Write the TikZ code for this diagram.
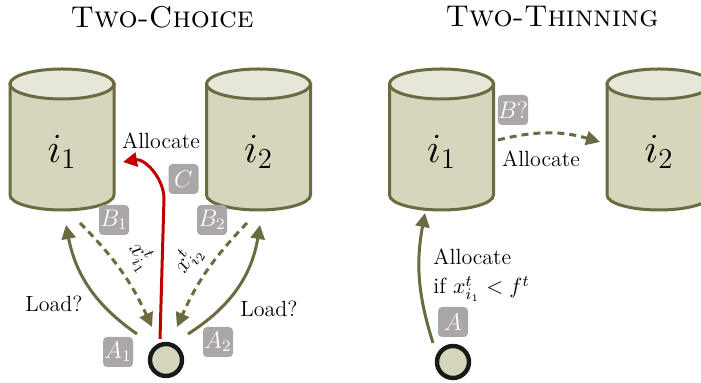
\documentclass[tikz,border=0pt]{standalone}
\usetikzlibrary{arrows.meta}
\definecolor{binline}{RGB}{107,106,64}
\definecolor{binbody}{RGB}{214,214,188}
\definecolor{bintop}{RGB}{231,231,217}
\definecolor{tagfill}{RGB}{170,167,166}
\definecolor{allocred}{RGB}{192,0,0}
\tikzset{
  cylbody/.style={draw=binline,fill=binbody,line width=1.5pt},
  cyltop/.style={draw=binline,fill=bintop,line width=1.5pt},
  ball/.style={circle,draw=black!90,fill=binbody,line width=2.2pt,minimum size=16pt,inner sep=0pt},
  tag/.style={fill=tagfill,text=white,rounded corners=2pt,minimum size=15pt,inner sep=0pt,font=\large},
  probe/.style={binline,line width=1.5pt,-{Triangle[length=7pt,width=7pt]}},
  query/.style={probe,dash pattern=on 3.5pt off 2.5pt},
  title/.style={font=\fontsize{15}{18}\selectfont},
  lbl/.style={font=\fontsize{11}{13}\selectfont,inner sep=1pt},
}
% a bin drawn as a cylinder: name, x, label
\newcommand\bincyl[3]{%
  \filldraw[cylbody] (#2-52,299) -- (#2-52,188)
    arc[start angle=180,end angle=360,x radius=52,y radius=15] -- (#2+52,299) -- cycle;
  \filldraw[cyltop] (#2,299) ellipse[x radius=52,y radius=15];
  \node (#1) at (#2,231) {\huge$#3$};
  \coordinate (#1-b) at (#2,173);
}
\begin{document}
\begin{tikzpicture}[x=0.5pt,y=0.5pt]
\useasboundingbox (0,0) rectangle (701,383);
\clip (0,0) rectangle (701,383);

% Two-Choice
\node[title] (tc) at (162,366) {\textsc{Two-Choice}};
\bincyl{c1}{62}{i_1}
\bincyl{c2}{258.5}{i_2}
\node[ball] (b0) at (166,23) {};
\coordinate (bend) at (164,185);
\coordinate (alloc) at (123,221);
\draw[query] ([shift={(18,-13)}]c1-b) to[bend left=10] ([shift={(-14,33)}]b0.center);
\draw[probe] ([shift={(-29,26)}]b0.center) to[bend left=22] ([shift={(4,-15)}]c1-b);
\draw[query] ([shift={(-11.5,-13)}]c2-b) to[bend right=10] ([shift={(11,33)}]b0.center);
\draw[probe] ([shift={(22,26)}]b0.center) to[bend right=24] ([shift={(1.5,-15)}]c2-b);
\draw[allocred,line width=1.5pt,-{Triangle[length=7pt,width=7pt]}]
  ([shift={(-6,21)}]b0.center) -- (bend) to[out=92,in=10] (alloc);
\node[lbl] (al1) at (161,242) {Allocate};
\node[tag] (tC) at (183.5,204) {$C$};
\node[tag] (tB1) at (114,163) {$B_1$};
\node[tag] (tB2) at (212,163) {$B_2$};
\node[tag] (tA1) at (118,31) {$A_1$};
\node[tag] (tA2) at (218,41) {$A_2$};
\node[rotate=-55,font=\large,inner sep=0pt] (x1) at (141,126) {$x^t_{i_1}$};
\node[rotate=58,font=\large,inner sep=0pt] (x2) at (188,123) {$x^t_{i_2}$};
\node[lbl] (ld1) at (54,79) {Load?};
\node[lbl] (ld2) at (269,74) {Load?};

% Two-Thinning
\node[title] (tt) at (552,366) {\textsc{Two-Thinning}};
\bincyl{t1}{441.5}{i_1}
\bincyl{t2}{659}{i_2}
\node[ball] (b1) at (453,21) {};
\draw[query] ([shift={(56.5,12)}]t1.center) to[bend left=15] ([shift={(-59,10)}]t2.center);
\node[tag] (tB) at (513,273) {$B?$};
\node[lbl] (al2) at (541,224) {Allocate};
\draw[probe] ([shift={(-20,19)}]b1.center) to[bend left=14] ([shift={(-16.5,-3)}]t1-b);
\node[lbl,anchor=base west] (al3) at (431,118) {Allocate};
\node[lbl,anchor=base west] (cond) at (431,89) {if $x^t_{i_1} < f^t$};
\node[tag] (tA) at (453,61) {$A$};
\end{tikzpicture}
\end{document}
